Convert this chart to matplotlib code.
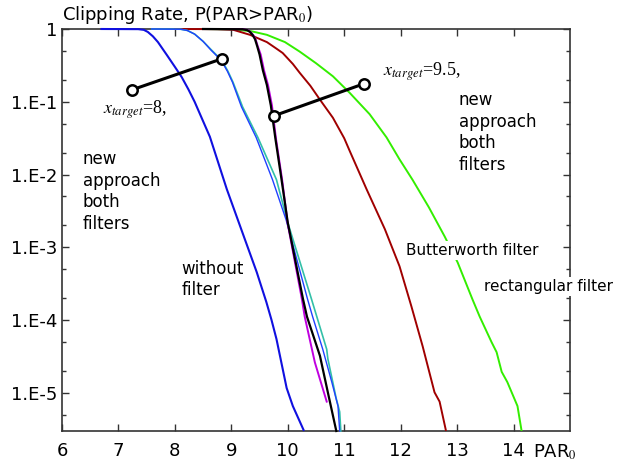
import matplotlib
matplotlib.use("Agg")
import matplotlib.pyplot as plt
from matplotlib.ticker import LogLocator, FixedLocator, NullFormatter

plt.rcParams['font.family'] = ['DejaVu Sans']
plt.rcParams['mathtext.fontset'] = 'stix'

# without filter
x_nofilt = [6.70, 7.35, 7.45, 7.52, 7.61, 7.70, 7.86, 8.00, 8.12, 8.24, 8.35, 8.62, 8.92, 9.24, 9.45, 9.62, 9.71,
            9.80, 9.91, 9.98, 10.09, 10.28]
y_nofilt = [1.0, 0.995, 0.973, 0.912, 0.794, 0.661, 0.437, 0.302, 0.219, 0.148, 0.100, 0.0331, 6.3e-3, 1.29e-3,
            4.57e-4, 1.78e-4, 1.02e-4, 5.5e-5, 2.14e-5, 1.17e-5, 6.6e-6, 3.1e-6]

# new approach, x_target = 8 (two filters)
x_t8a = [7.59, 8.10, 8.22, 8.35, 8.50, 8.65, 8.83, 8.94, 9.03, 9.20, 9.47, 9.80, 10.00, 10.42, 10.69, 10.71, 10.86,
         10.92, 10.94]
y_t8a = [1.0, 0.993, 0.955, 0.851, 0.676, 0.513, 0.372, 0.263, 0.186, 0.0851, 0.0324, 8.5e-3, 2.19e-3, 1.95e-4,
         3.98e-5, 2.95e-5, 8.3e-6, 5.5e-6, 3.0e-6]
x_t8b = [7.59, 8.10, 8.22, 8.35, 8.50, 8.64, 8.82, 8.93, 9.02, 9.18, 9.44, 9.73, 9.97, 10.35, 10.44, 10.62, 10.78,
         10.89, 10.92]
y_t8b = [1.0, 0.993, 0.955, 0.851, 0.676, 0.513, 0.372, 0.263, 0.186, 0.0851, 0.0324, 8.5e-3, 2.4e-3, 1.95e-4,
         1.12e-4, 3.98e-5, 1.41e-5, 6.6e-6, 3.0e-6]

# new approach, x_target = 9.5 (two filters)
x_t95a = [8.50, 9.20, 9.28, 9.33, 9.38, 9.42, 9.46, 9.50, 9.56, 9.63, 9.70, 9.78, 9.89, 10.00, 10.27, 10.34, 10.57,
          10.71, 10.86]
y_t95a = [1.0, 0.993, 0.966, 0.912, 0.822, 0.724, 0.575, 0.447, 0.269, 0.170, 0.0891, 0.0316, 8.5e-3, 2.19e-3,
          1.95e-4, 1.12e-4, 3.24e-5, 1.02e-5, 3.0e-6]
x_t95b = [8.50, 9.21, 9.29, 9.34, 9.39, 9.43, 9.47, 9.52, 9.58, 9.65, 9.72, 9.79, 9.90, 10.00, 10.25, 10.30, 10.48,
          10.69]
y_t95b = [1.0, 0.993, 0.966, 0.912, 0.822, 0.724, 0.575, 0.447, 0.269, 0.170, 0.0891, 0.0316, 8.5e-3, 2.09e-3,
          1.95e-4, 1.12e-4, 2.63e-5, 7.6e-6]

# Butterworth filter
x_butter = [8.0, 8.75, 9.03, 9.33, 9.63, 9.80, 9.91, 10.09, 10.21, 10.40, 10.57, 10.80, 11.00, 11.10, 11.40, 11.72,
            11.98, 12.19, 12.39, 12.60, 12.69, 12.80]
y_butter = [1.0, 0.995, 0.977, 0.832, 0.661, 0.537, 0.468, 0.331, 0.251, 0.166, 0.107, 0.0603, 0.0316, 0.0209,
            6.2e-3, 1.78e-3, 5.5e-4, 1.55e-4, 4.37e-5, 1.02e-5, 7.6e-6, 3.1e-6]

# rectangular filter
x_rect = [8.5, 9.0, 9.35, 9.63, 9.95, 10.21, 10.50, 10.80, 11.10, 11.45, 11.75, 11.98, 12.21, 12.50, 12.78, 13.01,
          13.27, 13.40, 13.61, 13.70, 13.79, 13.89, 14.07, 14.14]
y_rect = [1.0, 0.989, 0.933, 0.832, 0.661, 0.490, 0.339, 0.224, 0.132, 0.0676, 0.0324, 0.0162, 8.5e-3, 3.55e-3,
          1.41e-3, 6.2e-4, 1.95e-4, 1.12e-4, 5.0e-5, 3.63e-5, 1.95e-5, 1.41e-5, 6.6e-6, 3.1e-6]

# x_target markers (start circle -> curve circle)
mark8_x = [7.24, 8.83]
mark8_y = [0.146, 0.389]
mark95_x = [9.75, 11.35]
mark95_y = [0.064, 0.177]

xticks = [6, 7, 8, 9, 10, 11, 12, 13, 14]
yticks = [1, 1e-1, 1e-2, 1e-3, 1e-4, 1e-5]
ytick_labels = ['1', '1.E-1', '1.E-2', '1.E-3', '1.E-4', '1.E-5']

fig = plt.figure(figsize=(6.18, 4.67), dpi=100)
ax = fig.add_axes([0.1003, 0.0771, 0.8220, 0.8608])

kw = dict(zorder=3, clip_on=False, solid_joinstyle='round')
ax.plot(x_rect, y_rect, color='#33ee00', lw=1.4, **kw)
ax.plot(x_butter, y_butter, color='#a00000', lw=1.4, **kw)
ax.plot(x_t8a, y_t8a, color='#33c0a8', lw=1.2, **kw)
ax.plot(x_t8b, y_t8b, color='#2040ff', lw=1.0, **kw)
ax.plot(x_t95b, y_t95b, color='#c000e0', lw=1.4, **kw)
ax.plot(x_t95a, y_t95a, color='black', lw=1.6, **kw)
ax.plot(x_nofilt, y_nofilt, color='#1010e0', lw=1.5, **kw)

for mx, my in [(mark8_x, mark8_y), (mark95_x, mark95_y)]:
    ax.plot(mx, my, color='black', lw=2.2, marker='o', ms=7.5, mfc='white', mec='black', mew=1.8, zorder=5)

ax.set_yscale('log')
ax.set_xlim(6, 15)
ax.set_ylim(3e-6, 1)

ax.xaxis.set_major_locator(FixedLocator(xticks))
ax.yaxis.set_major_locator(FixedLocator(yticks))
ax.set_yticklabels(ytick_labels)
ax.yaxis.set_minor_locator(LogLocator(base=10, subs=(0.2, 0.5)))
ax.yaxis.set_minor_formatter(NullFormatter())
ax.tick_params(axis='both', which='both', direction='in', top=True, right=True, color='#333333')
ax.tick_params(axis='both', which='major', length=5, width=1, labelsize=13)
ax.tick_params(axis='y', which='minor', length=3, width=1)
ax.tick_params(axis='x', pad=8)
for s in ax.spines.values():
    s.set_linewidth(1.2)
    s.set_color('#333333')

tr = ax.get_xaxis_transform()
ax.text(6.0, 1.035, r'Clipping Rate, P(PAR>PAR$_0$)', transform=tr, fontsize=13, va='center', ha='left')
ax.text(14.35, -0.052, r'PAR$_0$', transform=tr, fontsize=13, va='center', ha='left')

ax.text(6.73, 0.078, r'$x_{target}$=8,', fontsize=13, fontfamily='Liberation Serif', va='center', ha='left',
        zorder=6)
ax.text(11.68, 0.257, r'$x_{target}$=9.5,', fontsize=13, fontfamily='Liberation Serif', va='center', ha='left',
        zorder=6)

ax.text(6.37, 5.9e-3, 'new\napproach\nboth\nfilters', fontsize=12, va='center', ha='left', linespacing=1.25)
ax.text(13.03, 0.038, 'new\napproach\nboth\nfilters', fontsize=12, va='center', ha='left', linespacing=1.25)
ax.text(8.12, 3.6e-4, 'without\nfilter', fontsize=12, va='center', ha='left', linespacing=1.25)
ax.text(12.1, 9.1e-4, 'Butterworth filter', fontsize=11, va='center', ha='left', zorder=6,
        bbox=dict(facecolor='white', edgecolor='none', pad=1.5))
ax.text(13.47, 2.9e-4, 'rectangular filter', fontsize=11, va='center', ha='left', zorder=6, clip_on=False,
        bbox=dict(facecolor='white', edgecolor='none', pad=1.5))

fig.savefig('out.png', dpi=100)
